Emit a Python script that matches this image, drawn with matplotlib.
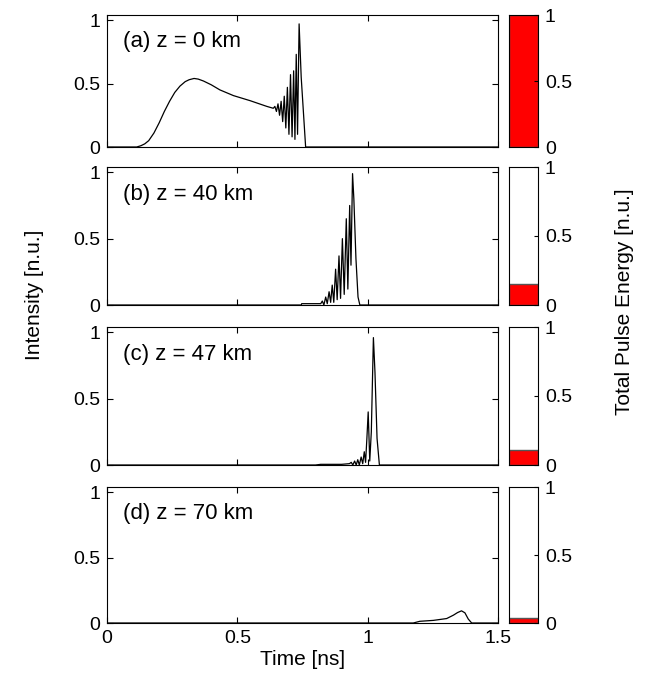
import numpy as np
import matplotlib
matplotlib.use("Agg")
import matplotlib.pyplot as plt

plt.rcParams['font.family'] = ['Liberation Sans', 'DejaVu Sans']

# --- data ---
labels = ['(a) z = 0 km', '(b) z = 40 km', '(c) z = 47 km', '(d) z = 70 km']
energy = [1.0, 0.15, 0.11, 0.04]

t_a = [0, 0.114, 0.13, 0.145, 0.16, 0.18, 0.20, 0.22, 0.24, 0.26, 0.28, 0.30, 0.315, 0.334,
       0.35, 0.37, 0.40, 0.433, 0.485, 0.549, 0.613, 0.638,
       0.644, 0.650, 0.656, 0.662, 0.668, 0.674, 0.680, 0.686, 0.692, 0.698, 0.704, 0.710, 0.716,
       0.721, 0.726, 0.731, 0.737, 0.745, 0.762, 1.5]
i_a = [0, 0, 0.01, 0.025, 0.05, 0.11, 0.19, 0.28, 0.36, 0.43, 0.48, 0.515, 0.53, 0.54,
       0.535, 0.52, 0.49, 0.45, 0.405, 0.365, 0.32, 0.305,
       0.32, 0.28, 0.34, 0.25, 0.36, 0.20, 0.40, 0.15, 0.47, 0.10, 0.57, 0.08, 0.60,
       0.06, 0.73, 0.10, 0.97, 0.55, 0, 0]

t_b = [0, 0.745, 0.747, 0.81, 0.820, 0.826, 0.832, 0.839, 0.845, 0.852, 0.858, 0.864, 0.870,
       0.877, 0.883, 0.890, 0.896, 0.903, 0.910, 0.918, 0.924, 0.931, 0.936, 0.942, 0.947, 0.955,
       0.963, 0.970, 1.5]
i_b = [0, 0, 0.01, 0.01, 0.01, 0.03, 0.0, 0.06, 0.01, 0.10, 0.02, 0.15, 0.02,
       0.27, 0.04, 0.37, 0.05, 0.50, 0.08, 0.65, 0.12, 0.75, 0.30, 0.99, 0.80, 0.35,
       0.06, 0, 0]

t_c = [0, 0.80, 0.82, 0.90, 0.93, 0.937, 0.943, 0.950, 0.956, 0.962, 0.968, 0.975, 0.981,
       0.987, 0.992, 0.997, 1.002, 1.008, 1.014, 1.022, 1.028, 1.036, 1.045, 1.5]
i_c = [0, 0, 0.005, 0.005, 0.01, 0.02, 0.0, 0.03, 0.0, 0.04, 0.0, 0.06, 0.01,
       0.10, 0.02, 0.20, 0.40, 0.03, 0.25, 0.96, 0.70, 0.20, 0, 0]

t_d = [0, 1.175, 1.20, 1.252, 1.303, 1.329, 1.345, 1.360, 1.373, 1.386, 1.399, 1.5]
i_d = [0, 0, 0.013, 0.02, 0.034, 0.06, 0.08, 0.093, 0.078, 0.03, 0, 0]

times = [t_a, t_b, t_c, t_d]
intens = [i_a, i_b, i_c, i_d]

# panel rows in pixels (top, bottom)
rows = [(15, 147), (167, 305), (327, 465), (487, 623)]
W, H = 649, 679

fig = plt.figure(figsize=(W / 100, H / 100), dpi=100)

for k in range(4):
    top, bot = rows[k]
    ax = fig.add_axes([107 / W, 1 - bot / H, 391 / W, (bot - top) / H])
    ax.plot(times[k], intens[k], color='black', lw=0.9)
    ax.set_xlim(0, 1.5)
    ax.set_ylim(0, 1.04)
    ax.set_yticks([0, 0.5, 1])
    ax.set_yticklabels(['0', '0.5', '1'])
    ax.set_xticks([0, 0.5, 1, 1.5])
    ax.tick_params(direction='in', top=True, right=True, labelsize=14, length=4, pad=5)
    if k < 3:
        ax.set_xticklabels([])
    else:
        ax.set_xticklabels(['0', '0.5', '1', '1.5'])
        ax.set_xlabel('Time [ns]', fontsize=15, labelpad=2)
    ax.text(0.04, 0.88, labels[k], transform=ax.transAxes, fontsize=16, va='top', ha='left')

    bx = fig.add_axes([509 / W, 1 - bot / H, 29 / W, (bot - top) / H])
    bx.bar([0], [energy[k]], width=1.0, color='red', edgecolor='#555555', lw=1.0)
    bx.set_xlim(-0.5, 0.5)
    bx.set_ylim(0, 1)
    bx.set_xticks([])
    bx.set_yticks([0, 0.5, 1])
    bx.set_yticklabels(['0', '0.5', '1'])
    bx.yaxis.tick_right()
    bx.tick_params(direction='in', labelsize=14, length=3, pad=5)

fig.text(35 / W, 1 - 295 / H, 'Intensity [n.u.]', rotation=90, fontsize=15, ha='center', va='center')
fig.text(625 / W, 1 - 302 / H, 'Total Pulse Energy [n.u.]', rotation=90, fontsize=15, ha='center', va='center')

fig.savefig('out.png', dpi=100)
